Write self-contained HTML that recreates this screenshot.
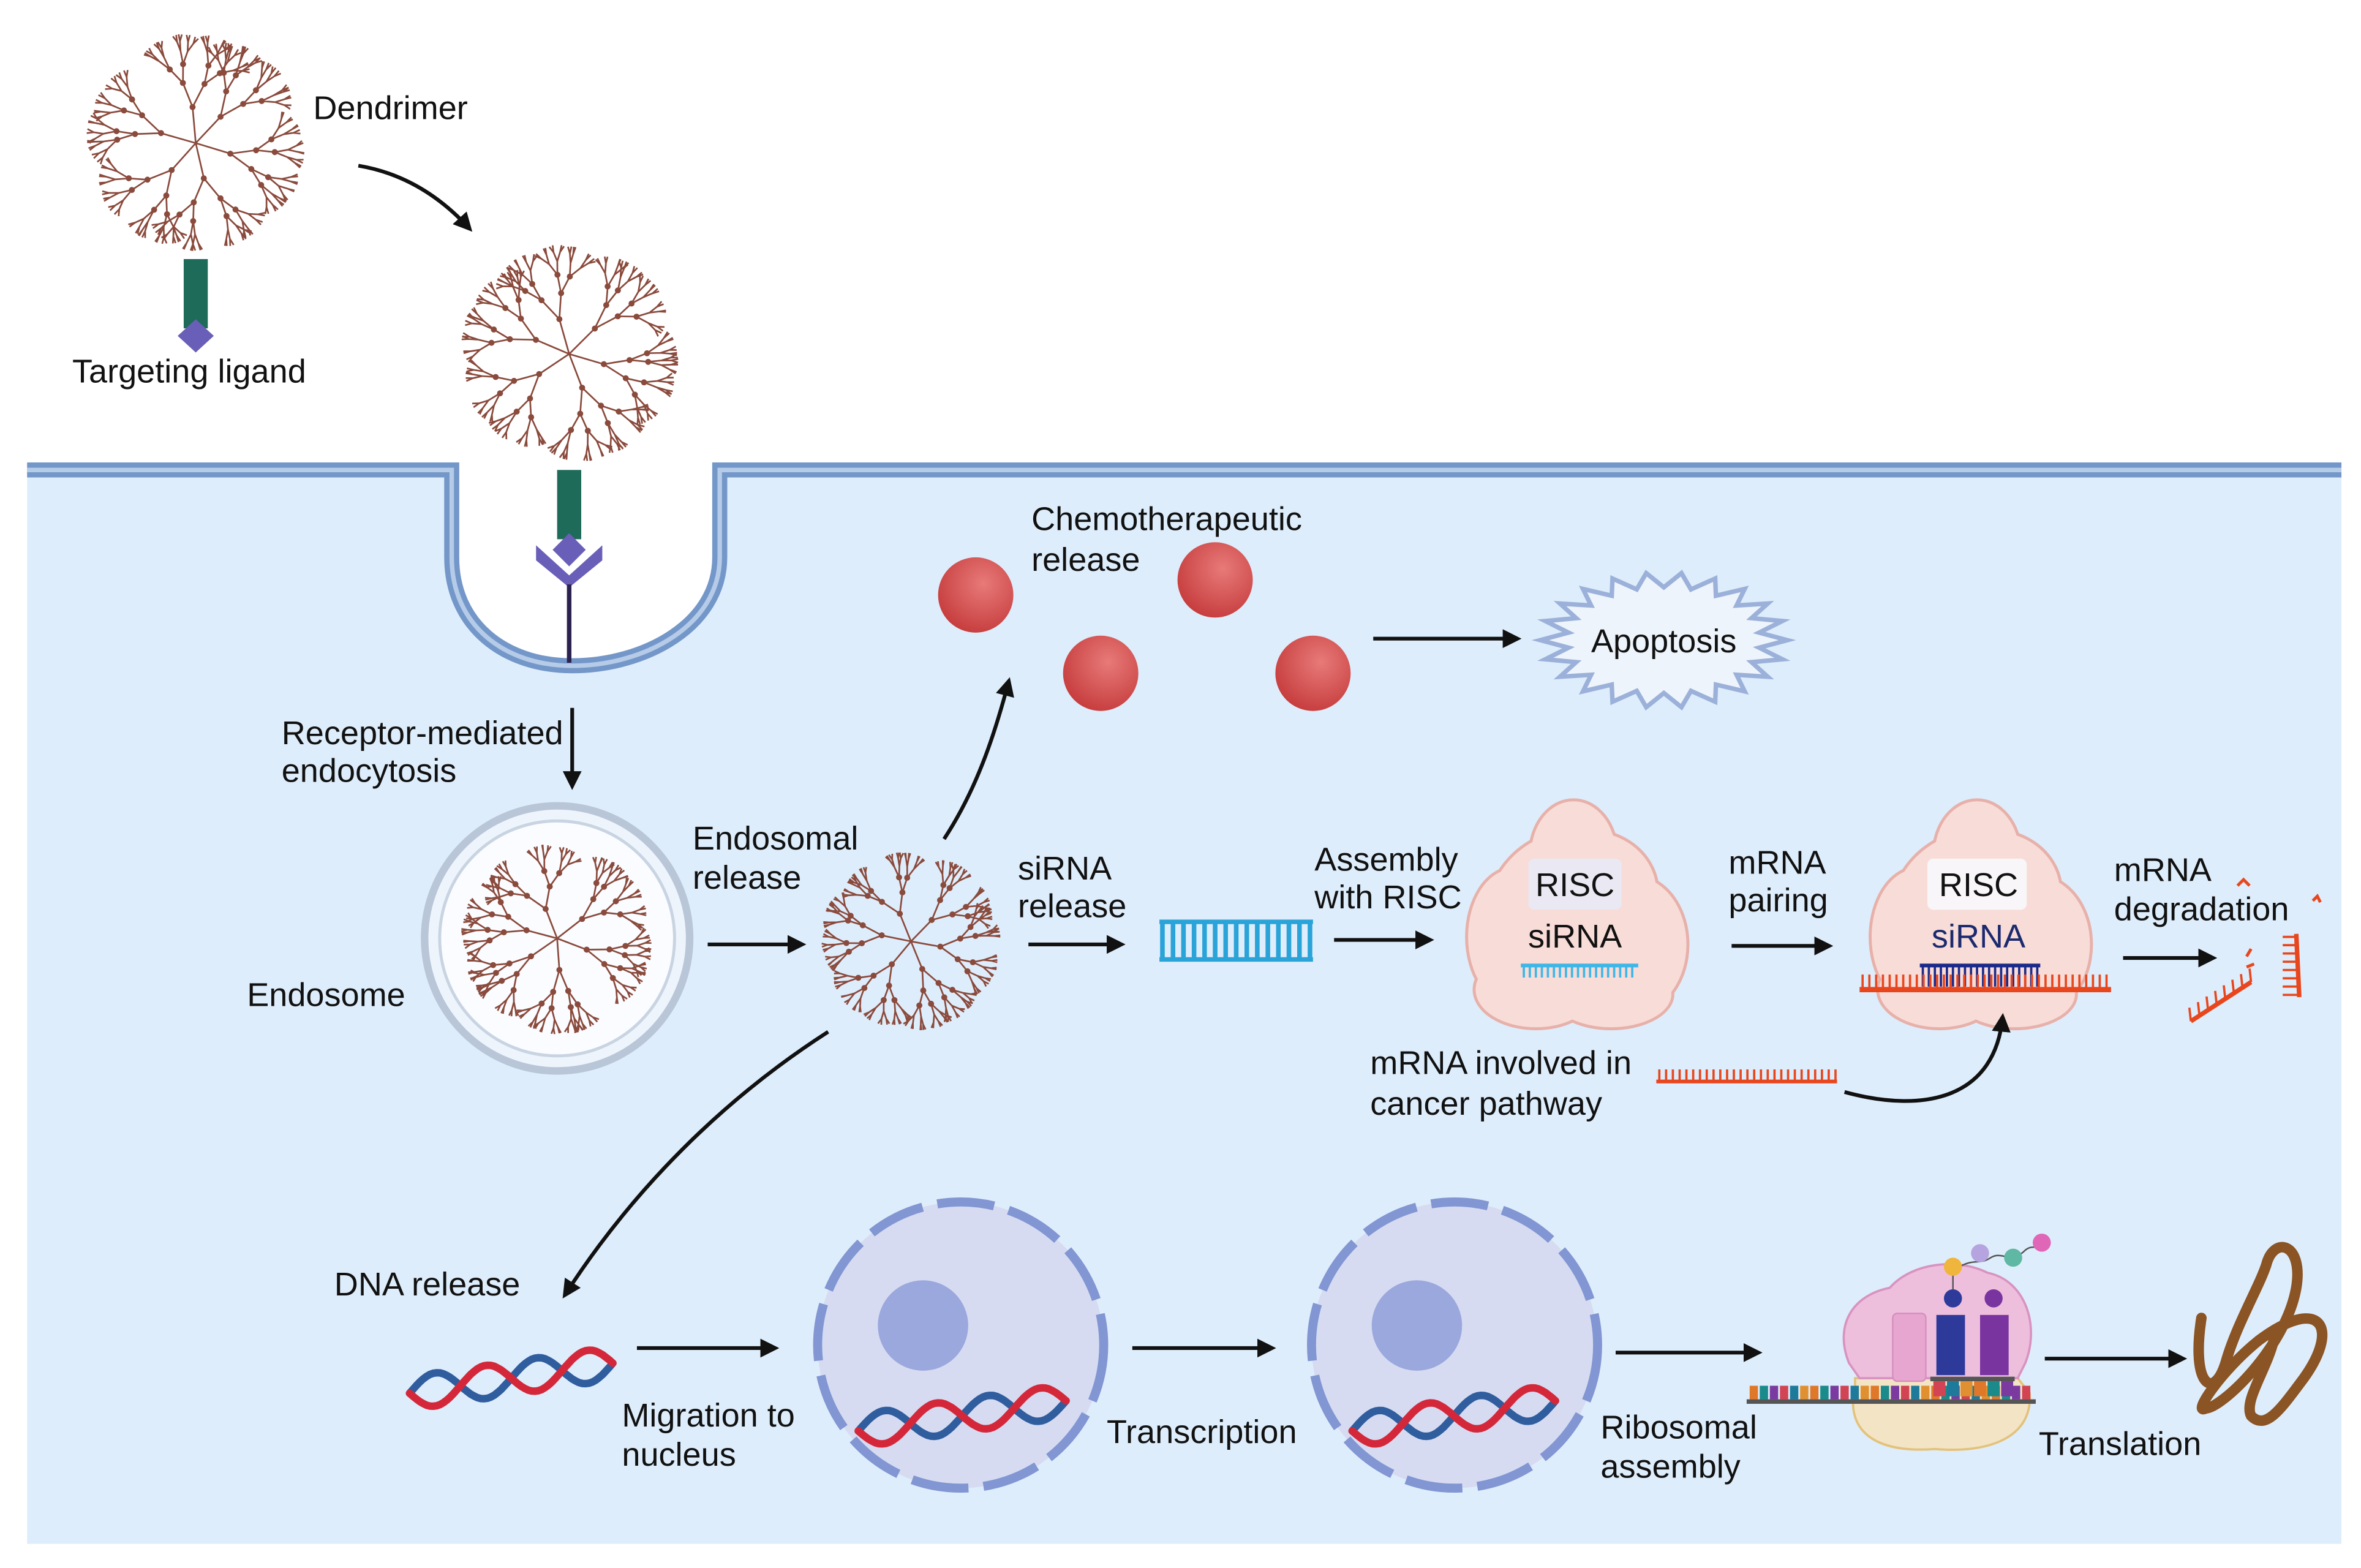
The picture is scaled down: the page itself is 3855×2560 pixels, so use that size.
<!DOCTYPE html>
<html><head><meta charset="utf-8"><style>
html,body{margin:0;padding:0;background:#fff}
svg{display:block}
text{font-family:"Liberation Sans",sans-serif;font-size:22px;fill:#111}
</style></head><body>
<svg id="s" width="3855" height="2560" viewBox="0 0 1568 1041" preserveAspectRatio="none" xmlns="http://www.w3.org/2000/svg">
<defs>
<marker id="ah" viewBox="0 0 10 10" refX="8" refY="5" markerWidth="5" markerHeight="5" orient="auto"><path d="M0,0L10,5L0,10z" fill="#111"/></marker>
<radialGradient id="ball" cx="0.6" cy="0.35" r="0.7"><stop offset="0" stop-color="#e77a78"/><stop offset="1" stop-color="#c63b3c"/></radialGradient>
</defs>
<rect width="1568" height="1041" fill="#fff"/>
<!-- cell -->
<path d="M18,312 L300,312 L300,370 C300,415 335,442 380,442 C428,442 478,415 478,370 L478,312 L1555,312 L1555,1025 L18,1025 Z" fill="#deedfb"/>
<path d="M18,312 L300,312 L300,370 C300,415 335,442 380,442 C428,442 478,415 478,370 L478,312 L1555,312" fill="none" stroke="#7497c9" stroke-width="10"/>
<path d="M18,312 L300,312 L300,370 C300,415 335,442 380,442 C428,442 478,415 478,370 L478,312 L1555,312" fill="none" stroke="#b5cbe8" stroke-width="3"/>
<!-- endosome -->
<circle cx="370" cy="623" r="88" fill="#eef4fb" stroke="#b8c6d8" stroke-width="5"/>
<circle cx="370" cy="623" r="78" fill="#fafcff" stroke="#c9d4e2" stroke-width="2"/>
<g id="dend"></g>
<!-- ligand 1 -->
<rect x="122" y="172" width="16" height="46" fill="#1f6b5a"/>
<path d="M130,212 L142,223 L130,234 L118,223Z" fill="#6a5fb8"/>
<!-- ligand 2 & receptor -->
<rect x="370" y="312" width="16" height="46" fill="#1f6b5a"/>
<path d="M356,362 L378,382 L400,362 L400,372 L378,390 L356,372Z" fill="#6a5fb8"/>
<path d="M378,354 L389,365 L378,376 L367,365Z" fill="#6a5fb8"/>
<line x1="378" y1="388" x2="378" y2="440" stroke="#2b2250" stroke-width="3"/>
<!-- balls -->
<circle cx="648" cy="395" r="25" fill="url(#ball)"/><circle cx="807" cy="385" r="25" fill="url(#ball)"/>
<circle cx="731" cy="447" r="25" fill="url(#ball)"/><circle cx="872" cy="447" r="25" fill="url(#ball)"/>
<!-- apoptosis -->
<path id="star" fill="#eef4fb" stroke="#9cb1da" stroke-width="3"/>
<text x="1105" y="433" text-anchor="middle">Apoptosis</text>
<!-- RISC blobs -->
<g id="risc1"></g><g id="risc2"></g>
<rect x="1015" y="570" width="62" height="34" rx="4" fill="#e8e9f6" opacity="0.9"/>
<rect x="1280" y="570" width="66" height="34" rx="4" fill="#f7f8fc" opacity="0.9"/>
<text x="1046" y="595" text-anchor="middle">RISC</text>
<text x="1046" y="629" text-anchor="middle">siRNA</text>
<text x="1314" y="595" text-anchor="middle">RISC</text>
<text x="1314" y="629" text-anchor="middle" style="fill:#1b2a6e">siRNA</text>
<g id="lad"></g>
<!-- nuclei -->
<circle cx="638" cy="893" r="95" fill="#d6dbf1" stroke="#8196d2" stroke-width="6" stroke-dasharray="38,10"/>
<circle cx="613" cy="880" r="30" fill="#9aa8dd"/>
<circle cx="966" cy="893" r="95" fill="#d6dbf1" stroke="#8196d2" stroke-width="6" stroke-dasharray="38,10"/>
<circle cx="941" cy="880" r="30" fill="#9aa8dd"/>
<g id="dna"></g>
<!-- ribosome -->
<path d="M1232,920 C1225,950 1245,965 1285,962 C1320,965 1350,955 1348,925 L1340,915 L1232,915Z" fill="#f3e4c6" stroke="#e3c27a" stroke-width="1.5"/>
<path d="M1228,905 C1218,880 1230,860 1255,855 C1270,838 1300,835 1320,845 C1345,850 1355,880 1345,905 L1340,915 L1235,915Z" fill="#edbfdd" stroke="#d893c0" stroke-width="1.5"/>
<rect x="1257" y="872" width="22" height="45" rx="3" fill="#e7a6cf" stroke="#d58fbd"/>
<rect x="1286" y="873" width="19" height="40" fill="#2e3a9a"/>
<rect x="1315" y="873" width="19" height="40" fill="#7a34a0"/>
<circle cx="1297" cy="862" r="6" fill="#2e3a9a"/><circle cx="1324" cy="862" r="6" fill="#7a34a0"/>
<path d="M1297,856 L1297,845 M1300,842 C1310,835 1315,840 1322,835 C1330,830 1335,840 1345,830 C1350,826 1352,830 1356,826" fill="none" stroke="#555" stroke-width="1"/>
<circle cx="1297" cy="841" r="6" fill="#f0b53c"/><circle cx="1315" cy="832" r="6" fill="#b6a4e0"/><circle cx="1337" cy="835" r="6" fill="#5fb8a3"/><circle cx="1356" cy="825" r="6" fill="#e066b8"/>
<rect x="1160" y="929" width="192" height="3" fill="#555"/>
<g id="codons"></g>
<rect x="1282" y="914" width="56" height="3" fill="#555"/>
<!-- protein -->
<path d="M1462,875 C1455,920 1470,930 1478,905 C1485,880 1500,855 1505,840 C1510,820 1530,825 1525,855 C1518,895 1475,935 1465,935 C1455,940 1475,910 1500,890 C1540,860 1555,880 1530,915 C1515,935 1505,950 1495,940 C1490,930 1505,910 1510,890" fill="none" stroke="#8a5424" stroke-width="7" stroke-linecap="round" stroke-linejoin="round"/>
<!-- arrows -->
<g fill="none" stroke="#111" stroke-width="2.5" marker-end="url(#ah)">
<path d="M238,110 C268,115 292,130 312,152"/>
<path d="M380,470 L380,522"/>
<path d="M470,627 L533,627"/>
<path d="M627,557 C648,525 660,490 670,452"/>
<path d="M683,627 L745,627"/>
<path d="M912,424 L1008,424"/>
<path d="M886,624 L950,624"/>
<path d="M1150,628 L1215,628"/>
<path d="M1410,636 L1470,636"/>
<path d="M1225,725 C1280,740 1325,728 1330,675"/>
<path d="M550,685 C480,730 420,790 375,860"/>
<path d="M423,895 L515,895"/>
<path d="M752,895 L845,895"/>
<path d="M1073,898 L1168,898"/>
<path d="M1358,902 L1450,902"/>
</g>
<!-- labels -->
<text x="208" y="79">Dendrimer</text>
<text x="48" y="254">Targeting ligand</text>
<text x="685" y="352">Chemotherapeutic</text>
<text x="685" y="379">release</text>
<text x="187" y="494">Receptor-mediated</text>
<text x="187" y="519">endocytosis</text>
<text x="460" y="564">Endosomal</text>
<text x="460" y="590">release</text>
<text x="164" y="668">Endosome</text>
<text x="676" y="584">siRNA</text>
<text x="676" y="609">release</text>
<text x="873" y="578">Assembly</text>
<text x="873" y="603">with RISC</text>
<text x="1148" y="580">mRNA</text>
<text x="1148" y="605">pairing</text>
<text x="1404" y="585">mRNA</text>
<text x="1404" y="611">degradation</text>
<text x="910" y="713">mRNA involved in</text>
<text x="910" y="740">cancer pathway</text>
<text x="222" y="860">DNA release</text>
<text x="413" y="947">Migration to</text>
<text x="413" y="973">nucleus</text>
<text x="735" y="958">Transcription</text>
<text x="1063" y="955">Ribosomal</text>
<text x="1063" y="981">assembly</text>
<text x="1354" y="966">Translation</text>
</svg>
<script>
var NS="http://www.w3.org/2000/svg";
function el(p,t,a){var e=document.createElementNS(NS,t);for(var k in a)e.setAttribute(k,a[k]);p.appendChild(e);return e;}
var D=document.getElementById('dend');
var seed=7;function rnd(){seed=(seed*9301+49297)%233280;return seed/233280;}
function dend(cx,cy,R){var d='',dots=[];var l0=R*0.3;
 function br(x,y,a,l,g){a+=(rnd()-0.5)*0.35;var x2=x+l*Math.cos(a),y2=y+l*Math.sin(a);d+='M'+x.toFixed(1)+' '+y.toFixed(1)+'L'+x2.toFixed(1)+' '+y2.toFixed(1);
  if(g<3)dots.push([x2,y2]);
  if(g<5){var s=[0.45,0.35,0.3,0.25,0.2][g];br(x2,y2,a-s,l*0.72,g+1);br(x2,y2,a+s,l*0.72,g+1);}}
 for(var i=0;i<6;i++)br(cx,cy,i*Math.PI/3+0.3,l0,0);
 el(D,'path',{d:d,stroke:'#8a4a3c','stroke-width':1.1,fill:'none'});
 dots.forEach(function(p){el(D,'circle',{cx:p[0],cy:p[1],r:2,fill:'#8a4a3c'});});}
dend(130,95,80);dend(378,235,80);dend(370,623,70);dend(605,625,66);
var sp='',n=22;for(var i=0;i<2*n;i++){var a=i*Math.PI/n,r=i%2?0.78:1;sp+=(i?'L':'M')+(1105+82*r*Math.cos(a)).toFixed(1)+','+(425+45*r*Math.sin(a)).toFixed(1);}
document.getElementById('star').setAttribute('d',sp+'Z');
function blob(id,cx,cy){var g=document.getElementById(id);
 var E=[[0,-45,28,35],[0,0,58,60],[-40,10,30,45],[40,15,35,45],[-25,45,40,25],[25,48,40,22],[10,-20,45,40]];
 E.forEach(function(e){el(g,'ellipse',{cx:cx+e[0],cy:cy+e[1],rx:e[2]+2,ry:e[3]+2,fill:'#e7b1aa'});});
 E.forEach(function(e){el(g,'ellipse',{cx:cx+e[0],cy:cy+e[1],rx:e[2],ry:e[3],fill:'#f8dcd8'});});}
blob('risc1',1045,612);blob('risc2',1313,612);
var L=document.getElementById('lad');
function ladder(x1,x2,y,dy,col,sp,w,tw){el(L,'line',{x1:x1,y1:y,x2:x2,y2:y,stroke:col,'stroke-width':w});
 for(var x=x1+2;x<=x2-1;x+=sp)el(L,'line',{x1:x,y1:y,x2:x,y2:y+dy,stroke:col,'stroke-width':tw});}
ladder(770,872,612,24,'#2aa3d8',7,3,3);ladder(770,872,637,-24,'#2aa3d8',7,3,3);
ladder(1010,1088,641,8,'#3fb7e6',4,2.5,1.5);
ladder(1275,1355,641,14,'#1b2a8a',4,2.5,1.5);
ladder(1235,1402,657,-10,'#e8471e',4.5,3.5,1.5);
ladder(1100,1220,718,-8,'#e8471e',4.5,2.5,1.5);
ladder(920,1015,836,-8,'#2c7a2c',4.5,2.5,1.5);
var fr=[['M1455,678 L1495,652','#e8471e'],['M1525,620 L1527,662','#e8471e']];
fr.forEach(function(f){el(L,'path',{d:f[0],stroke:f[1],'stroke-width':3,fill:'none'});});
for(var i=0;i<8;i++){var t=i/7;var x=1455+40*t,y=678-26*t;el(L,'line',{x1:x,y1:y,x2:x-1,y2:y-9,stroke:'#e8471e','stroke-width':1.5});}
for(var i=0;i<8;i++){var y=622+i*5.5;el(L,'line',{x1:1526,y1:y,x2:1516,y2:y,stroke:'#e8471e','stroke-width':1.5});}
el(L,'path',{d:'M1486,588 l4,-4 l4,4 M1536,598 l3,-3 l2,4 M1495,630 l-3,5 M1497,640 l-5,2',stroke:'#e8471e','stroke-width':2,fill:'none'});
var G=document.getElementById('dna');
function helix(x,y,w,amp){var a='',b='';for(var i=0;i<=60;i++){var t=i/60,xx=x+w*t,ph=t*Math.PI*4;
 a+=(i?'L':'M')+xx.toFixed(1)+','+(y+amp*Math.sin(ph)-t*20).toFixed(1);b+=(i?'L':'M')+xx.toFixed(1)+','+(y-amp*Math.sin(ph)-t*20).toFixed(1);}
 el(G,'path',{d:b,stroke:'#2f5d9e','stroke-width':5,fill:'none','stroke-linecap':'round'});
 el(G,'path',{d:a,stroke:'#d4283a','stroke-width':5,fill:'none','stroke-linecap':'round'});}
helix(272,925,135,11);helix(570,950,138,11);helix(898,950,135,11);
var C=document.getElementById('codons'),cols=['#e0782a','#1a8a8a','#7a3aa0','#d24454','#1e7a9a','#e09030'];
for(var i=0;i<28;i++)el(C,'rect',{x:1162+i*6.7,y:920,width:5.5,height:9,fill:cols[i%6]});
for(var i=0;i<6;i++)el(C,'rect',{x:1284+i*9,y:917,width:8,height:10,fill:cols[(i+3)%6]});
</script>
</body></html>
